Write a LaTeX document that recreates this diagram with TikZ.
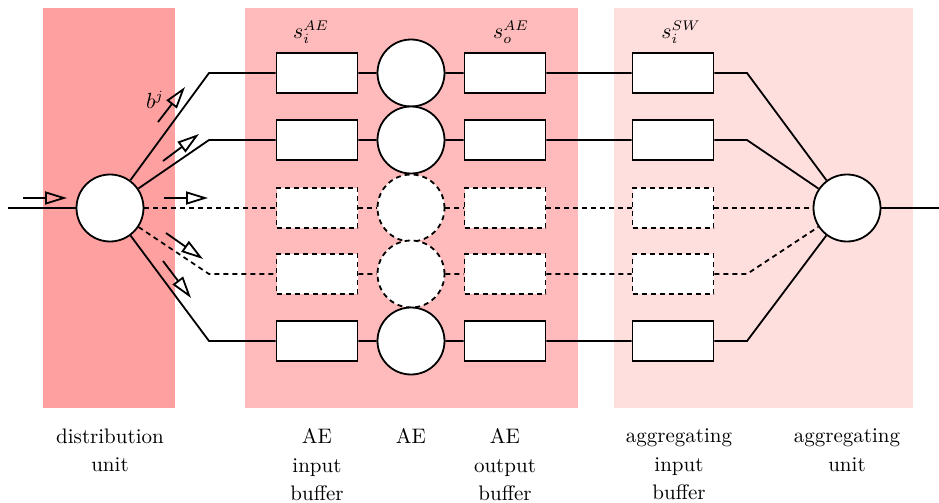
\documentclass[tikz,border=0pt]{standalone}
\usepackage{amsmath}
\usepackage{tikz}
\usetikzlibrary{arrows.meta}

\definecolor{distband}{RGB}{255,160,160}
\definecolor{aeband}{RGB}{255,187,187}
\definecolor{aggband}{RGB}{255,222,222}

\begin{document}
\begin{tikzpicture}[x=0.5pt, y=-0.5pt, line width=0.9pt,
  font=\fontsize{10.5}{14.25}\selectfont,
  dashed/.style = {dash pattern=on 2.5pt off 2pt},
  buf/.style = {shape=rectangle, draw, fill=white, inner sep=0pt,
    minimum width=40.5pt, minimum height=20pt},
  unit/.style = {shape=circle, draw, fill=white, inner sep=0pt,
    minimum size=33.5pt},
  flow/.style = {-{Triangle[open, length=11pt, width=6.5pt]}},
  caption/.style = {align=center, anchor=north, inner sep=0pt}]
  \useasboundingbox (0,0) rectangle (939,503);
  % background bands
  \fill[distband] (43,8) rectangle (175,408);
  \fill[aeband] (245,8) rectangle (578,408);
  \fill[aggband] (614,8) rectangle (913,408);

  \node[unit] (dist) at (110,208) {};
  \node[unit] (agg) at (847,208) {};
  \coordinate (in) at (8,208);
  \coordinate (out) at (939,208);
  \draw (in) -- (dist);
  \draw (agg) -- (out);

  % one row per channel
  \foreach \r/\y/\sty in {1/73/solid, 2/140/solid, 3/208/dashed,
                          4/274/dashed, 5/341/solid} {
    \coordinate (dl\r) at (209,\y);
    \coordinate (dr\r) at (747,\y);
    \node[buf,\sty] (ib\r) at (317,\y) {};
    \node[unit,\sty] (ae\r) at (411,\y) {};
    \node[buf,\sty] (ob\r) at (505,\y) {};
    \node[buf,\sty] (sw\r) at (673,\y) {};
    \draw[\sty] (dist) -- (dl\r) -- (ib\r) -- (ae\r) -- (ob\r)
      -- (sw\r) -- (dr\r) -- (agg);
  }

  % data flow arrows
  \foreach \a/\b in {{23,198}/{67,198}, {158,122}/{185,87},
                     {163,161}/{199,134}, {164,198}/{208,198},
                     {166,233}/{203,259}, {163,261}/{191,298}} {
    \coordinate (fa) at (\a);
    \coordinate (fb) at (\b);
    \draw[flow] (fa) -- (fb);
  }
  \node (bj) at (155,100) {$b^j$};

  \node (siae) at (311,32) {$s_i^{AE}$};
  \node (soae) at (511,32) {$s_o^{AE}$};
  \node (sisw) at (681,32) {$s_i^{SW}$};

  \node[caption] (ldist) at (110,428) {distribution\\unit};
  \node[caption] (lib) at (317,428) {AE\\input\\buffer};
  \node[caption] (lae) at (411,428) {AE};
  \node[caption] (lob) at (505,428) {AE\\output\\buffer};
  \node[caption] (lsw) at (679,428) {aggregating\\input\\buffer};
  \node[caption] (lagg) at (847,428) {aggregating\\unit};
\end{tikzpicture}
\end{document}
